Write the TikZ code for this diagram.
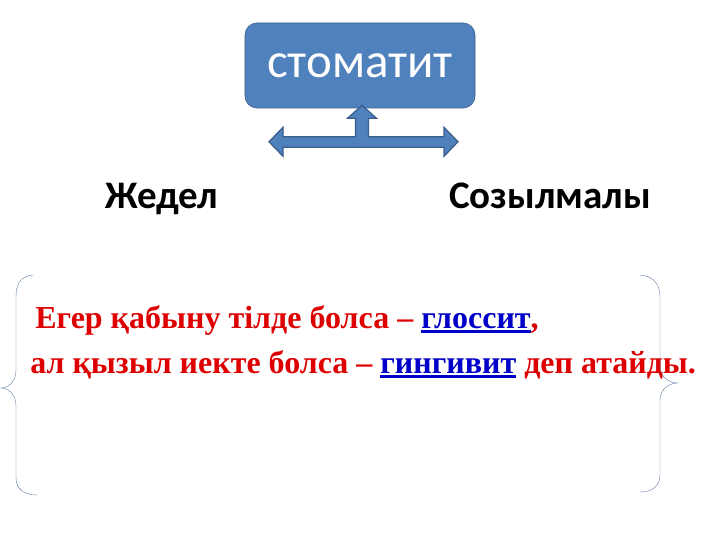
\documentclass[tikz,border=0pt]{standalone}
\usepackage{fontspec}
\setmainfont{Liberation Serif}
\newfontfamily\calib{Carlito}
\usepackage{tikz}
\definecolor{box_blue}{RGB}{79,129,189}
\definecolor{edge_blue}{RGB}{56,93,138}
\definecolor{brace_gray}{RGB}{95,125,160}
\definecolor{text_red}{RGB}{222,0,0}
\definecolor{word_blue}{RGB}{0,0,200}
\newcommand{\wordul}[1]{\textcolor{word_blue}{\setbox0\hbox{#1}\rlap{\rule[-4.5pt]{\wd0}{2.6pt}}\box0}}

\begin{document}
\begin{tikzpicture}[x=1pt,y=-1pt,semithick]
    \tikzstyle{mainbox}=[draw=edge_blue, fill=box_blue, rounded corners=12pt, minimum width=230pt, minimum height=85pt, text=white, font=\calib\fontsize{49}{52}\selectfont]
    \tikzstyle{kind}=[anchor=base, text=black, font=\calib\bfseries\fontsize{39}{41}\selectfont]
    \tikzstyle{line}=[anchor=base west, inner sep=0pt, text=text_red, font=\bfseries\fontsize{32}{34}\selectfont]
    \tikzstyle{brace}=[draw=brace_gray, thin]

    \useasboundingbox (0,0) rectangle (720,540);

    \node[mainbox] (box) at (360,65.5) {стоматит};
    \node[kind] (acute)   at (162,209) {Жедел};
    \node[kind] (chronic) at (550,209) {Созылмалы};

    \node[line] (first)  at (35,328) {Егер қабыну тілде болса – \wordul{глоссит},};
    \node[line] (second) at (30,373) {ал қызыл иекте болса – \wordul{гингивит} деп атайды.};

    % block arrow under the box
    \begin{scope}[shift={(box.south)}]
      \path[fill=box_blue, draw=edge_blue, line width=1.2pt, line join=miter]
        (2,-3) -- (16.5,10) -- (8.5,10) -- (8.5,28.5) -- (84,28.5) -- (84,19)
        -- (98,33.5) -- (84,48) -- (84,39) -- (-77,39) -- (-77,48)
        -- (-91,33.5) -- (-77,19) -- (-77,28.5) -- (-4.5,28.5) -- (-4.5,10)
        -- (-12.5,10) -- cycle;
    \end{scope}

    % braces
    \path[brace] (33,275) .. controls (22,276) and (16,283) .. (16,296) -- (16,370)
      .. controls (16,381) and (9,388) .. (1,388)
      .. controls (9,388) and (16,395) .. (16,406) -- (16,478)
      .. controls (16,489) and (24,495) .. (37,495);
    \path[brace] (640,275) .. controls (652,276) and (660,283) .. (660,296) -- (660,366)
      .. controls (660,376) and (668,383) .. (678,383)
      .. controls (668,383) and (660,390) .. (660,400) -- (660,475)
      .. controls (660,486) and (652,492) .. (640,492);
\end{tikzpicture}
\end{document}
